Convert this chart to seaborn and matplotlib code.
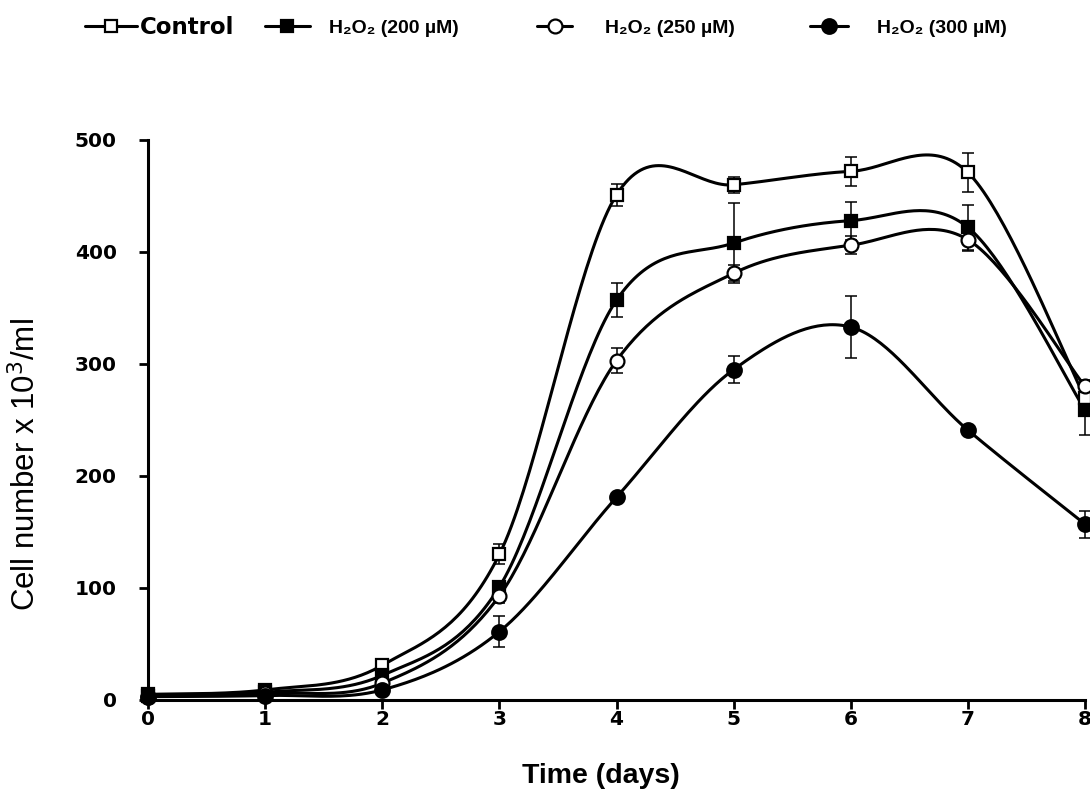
import numpy as np
import matplotlib
matplotlib.use('Agg')
import matplotlib.pyplot as plt
import seaborn as sns
from matplotlib.lines import Line2D

# values
days = [0, 1, 2, 3, 4, 5, 6, 7, 8]
labels = ['Control', 'H₂O₂ (200 µM)', 'H₂O₂ (250 µM)', 'H₂O₂ (300 µM)']
control = [5, 9, 31, 130, 451, 460, 472, 471, 270]
control_err = [2, 3, 4, 9, 10, 7, 13, 17, 8]
h200 = [4, 7, 22, 101, 357, 408, 428, 422, 259]
h200_err = [1, 2, 3, 5, 15, 36, 17, 20, 22]
h250 = [3, 6, 15, 93, 303, 381, 406, 411, 280]
h250_err = [1, 2, 3, 6, 11, 7, 8, 10, 6]
h300 = [3, 4, 9, 61, 181, 295, 333, 241, 157]
h300_err = [1, 2, 2, 14, 3, 12, 28, 3, 12]

series = [control, h200, h250, h300]
errors = [control_err, h200_err, h250_err, h300_err]
markers = ['s', 's', 'o', 'o']
faces = ['white', 'black', 'white', 'black']
msizes = [9, 9, 10, 10.5]


def smooth(x, y, n=40):
    # Excel-style smoothed line (bezier through the points)
    p = np.column_stack([x, y]).astype(float)
    out = []
    for i in range(len(p) - 1):
        p0 = p[i - 1] if i > 0 else p[i]
        p1, p2 = p[i], p[i + 1]
        p3 = p[i + 2] if i + 2 < len(p) else p[i + 1]
        c1 = p1 + (p2 - p0) / 6
        c2 = p2 - (p3 - p1) / 6
        t = np.linspace(0, 1, n)[:, None]
        seg = (1 - t) ** 3 * p1 + 3 * (1 - t) ** 2 * t * c1 + 3 * (1 - t) * t ** 2 * c2 + t ** 3 * p2
        out.append(seg if i == 0 else seg[1:])
    out = np.vstack(out)
    return out[:, 0], out[:, 1]


sns.set_style('ticks')
plt.rcParams['font.family'] = ['Liberation Sans', 'DejaVu Sans']

fig = plt.figure(figsize=(10.9, 7.94), dpi=100)
ax = fig.add_axes([0.1358, 0.1184, 0.8596, 0.7053])

for vals, errs, m, fc, ms in zip(series, errors, markers, faces, msizes):
    sx, sy = smooth(days, vals)
    sns.lineplot(x=sx, y=sy, ax=ax, color='black', linewidth=2.2, sort=False,
                 estimator=None, clip_on=False, zorder=2)
    ax.errorbar(days, vals, yerr=errs, fmt='none', ecolor='black', elinewidth=1.1,
                capsize=4, capthick=1.1, clip_on=False, zorder=3)
    ax.plot(days, vals, linestyle='none', marker=m, markersize=ms,
            markerfacecolor=fc, markeredgecolor='black', markeredgewidth=1.6,
            clip_on=False, zorder=4)

ax.set_xlim(0, 8)
ax.set_ylim(0, 500)
ax.set_xticks(range(0, 9))
ax.set_yticks(range(0, 501, 100))
sns.despine(ax=ax)
for s in ['left', 'bottom']:
    ax.spines[s].set_linewidth(2.2)
    ax.spines[s].set_color('black')
ax.tick_params(axis='both', direction='out', length=6.5, width=2, colors='black')
ax.tick_params(axis='y', pad=16)
ax.tick_params(axis='x', pad=1)
for lab in ax.get_xticklabels() + ax.get_yticklabels():
    lab.set_fontfamily('DejaVu Sans')
    lab.set_fontweight('bold')
    lab.set_fontsize(14.5)

ax.set_xlabel('Time (days)', fontsize=20.5, fontweight='bold', color='black')
ax.xaxis.set_label_coords(0.483, -0.113)
ax.set_ylabel('Cell number x 10$^3$/ml', fontsize=22.5, color='black')
ax.yaxis.set_label_coords(-0.113, 0.421)

# legend across the top, one entry at a time as in the original
handles = [Line2D([], [], color='black', linewidth=2.2, marker=m, markersize=ms,
                  markerfacecolor=fc, markeredgecolor='black', markeredgewidth=1.6)
           for m, fc, ms in zip(markers, faces, msizes)]
leg_x = [85, 265, 537, 810]
leg_hl = [2.26, 2.3, 1.8, 1.95]
leg_pad = [0.13, 1.0, 1.7, 1.5]
for i in range(4):
    if i == 0:
        prop = {'family': 'DejaVu Sans', 'weight': 'bold', 'size': 16.5}
    else:
        prop = {'family': 'Liberation Sans', 'weight': 'bold', 'size': 14}
    leg = fig.legend([handles[i]], [labels[i]], loc='center left',
                     bbox_to_anchor=(leg_x[i] / 1090, 1 - 28 / 794),
                     frameon=False, borderpad=0, borderaxespad=0,
                     handlelength=leg_hl[i], handletextpad=leg_pad[i], prop=prop)
    for t in leg.get_texts():
        t.set_color('black')

fig.savefig('out.png', dpi=100)
